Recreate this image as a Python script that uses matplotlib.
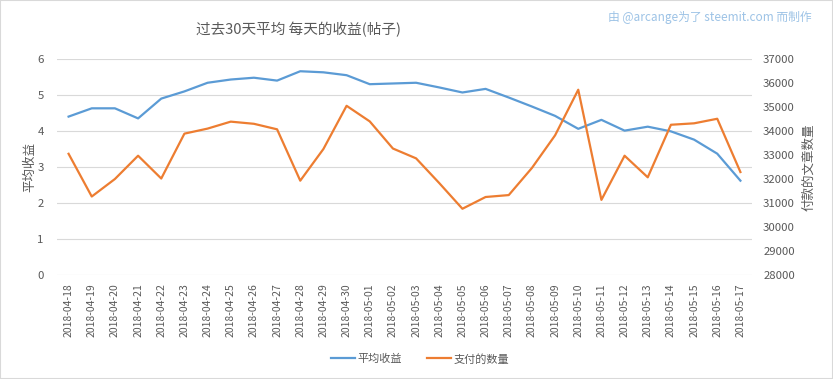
import matplotlib
matplotlib.use('Agg')
import matplotlib.pyplot as plt
from matplotlib.patches import Rectangle

plt.rcParams['font.family'] = ['Noto Sans CJK SC', 'DejaVu Sans']

dates = ['2018-04-18', '2018-04-19', '2018-04-20', '2018-04-21', '2018-04-22',
         '2018-04-23', '2018-04-24', '2018-04-25', '2018-04-26', '2018-04-27',
         '2018-04-28', '2018-04-29', '2018-04-30', '2018-05-01', '2018-05-02',
         '2018-05-03', '2018-05-04', '2018-05-05', '2018-05-06', '2018-05-07',
         '2018-05-08', '2018-05-09', '2018-05-10', '2018-05-11', '2018-05-12',
         '2018-05-13', '2018-05-14', '2018-05-15', '2018-05-16', '2018-05-17']

avg_reward = [4.40, 4.63, 4.63, 4.35, 4.90, 5.10, 5.34, 5.43, 5.48, 5.40,
              5.66, 5.63, 5.55, 5.30, 5.32, 5.34, 5.21, 5.07, 5.17, 4.93,
              4.68, 4.42, 4.06, 4.31, 4.01, 4.12, 3.99, 3.76, 3.37, 2.62]

paid_count = [33050, 31270, 32000, 32970, 32020, 33890, 34100, 34390, 34300, 34070,
              31930, 33250, 35050, 34400, 33270, 32860, 31830, 30760, 31250, 31330,
              32460, 33820, 35720, 31130, 32970, 32070, 34260, 34320, 34510, 32290]

blue = '#5B9BD5'
orange = '#ED7D31'
txt = '#595959'

fig = plt.figure(figsize=(8.33, 3.79), dpi=100)
ax = fig.add_axes([57/833, 1 - 275/379, 695/833, 216/379])
ax2 = ax.twinx()

x = list(range(len(dates)))
l1, = ax.plot(x, avg_reward, color=blue, lw=1.6, label='平均收益', zorder=3)
l2, = ax2.plot(x, paid_count, color=orange, lw=1.6, label='支付的数量', zorder=3)

ax.set_xlim(-0.5, len(dates) - 0.5)
ax.set_ylim(0, 6)
ax.set_yticks(range(0, 7))
ax2.set_ylim(28000, 37000)
ax2.set_yticks(range(28000, 37001, 1000))
ax.grid(axis='y', color='#d9d9d9', lw=0.8)
ax.set_axisbelow(True)

ax.set_xticks(x)
ax.set_xticklabels(dates, rotation=90, fontsize=7.5, color=txt)
for a in (ax, ax2):
    for s in a.spines.values():
        s.set_visible(False)
    a.tick_params(length=0, colors=txt)
ax.tick_params(axis='y', pad=9.5, labelsize=8.2)
ax2.tick_params(axis='y', pad=8, labelsize=8.2)
ax.tick_params(axis='x', pad=6, labelsize=7.5)

ax.set_ylabel('平均收益', fontsize=9, color=txt, labelpad=1)
ax2.set_ylabel('付款的文章数量', fontsize=9, color=txt, rotation=90, labelpad=5)

fig.text(298/833, 1 - 30/379, '过去30天平均 每天的收益(帖子)', fontsize=10.5,
         color=txt, ha='center', va='center')
fig.text(812/833, 1 - 17/379, '由 @arcange为了 steemit.com 而制作', fontsize=8.5,
         color='#9dc3e6', ha='right', va='center')

fig.legend([l1, l2], ['平均收益', '支付的数量'], loc='center',
           bbox_to_anchor=(420/833, 1 - 359/379), ncol=2, frameon=False,
           fontsize=8, labelcolor=txt, handlelength=2.2, columnspacing=2.2,
           handletextpad=0.2)

fig.patches.append(Rectangle((0, 0), 1, 1, transform=fig.transFigure,
                             fill=False, edgecolor='#d9d9d9', lw=1.5))

fig.savefig('out.png', dpi=100)
